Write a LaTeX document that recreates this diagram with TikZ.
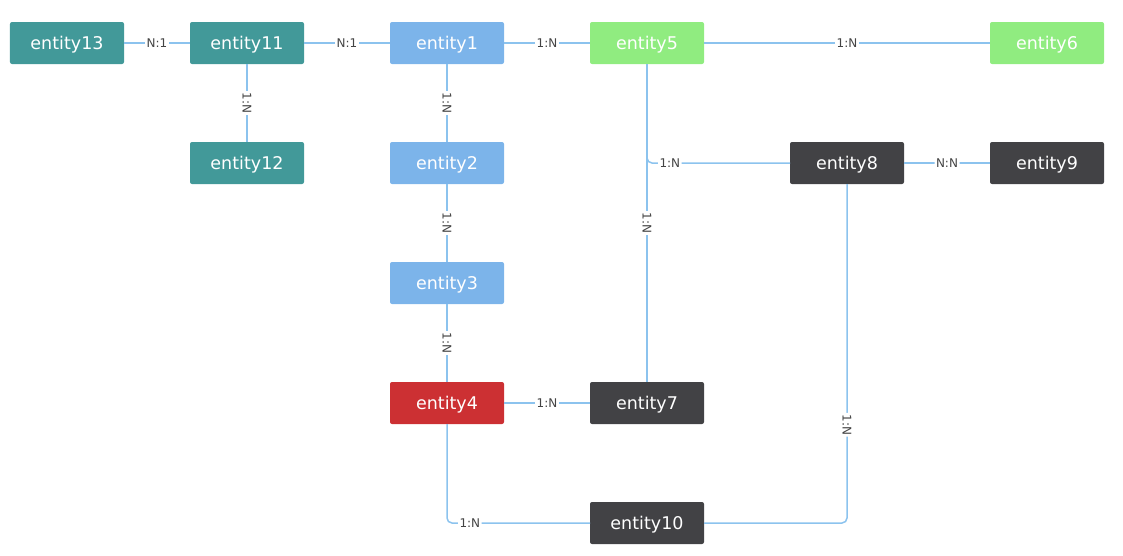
\documentclass[tikz,border=0pt]{standalone}
\usepackage{xcolor}
\usepackage{tikz}
\usetikzlibrary{positioning}
\usepackage{fontspec}
\setmainfont{DejaVu Sans}
\definecolor{tealbox}{HTML}{429999}
\definecolor{bluebox}{HTML}{7CB4EA}
\definecolor{greenbox}{HTML}{90EC80}
\definecolor{redbox}{HTML}{CC3033}
\definecolor{darkbox}{HTML}{424245}
\definecolor{linkblue}{HTML}{8CC3EE}
\definecolor{labelgray}{HTML}{444444}

\begin{document}
\begin{tikzpicture}[x=1pt, y=1pt,
  entity/.style={rounded corners=2pt, minimum width=114pt, minimum height=42pt,
                 inner sep=0pt, outer sep=0pt, text=white, text depth=0pt,
                 font=\fontsize{17.5}{19}\selectfont},
  tealent/.style={entity, fill=tealbox},
  blueent/.style={entity, fill=bluebox},
  greenent/.style={entity, fill=greenbox},
  redent/.style={entity, fill=redbox},
  darkent/.style={entity, fill=darkbox},
  link/.style={draw=linkblue, line width=1.5pt, rounded corners=5pt},
  rel/.style={fill=white, inner sep=1.5pt, text=labelgray,
              font=\fontsize{12}{13}\selectfont},
  vrel/.style={rel, rotate=-90}
]
\useasboundingbox (-67,43) rectangle (1056,-512);

\node[tealent] (e13) at (0,0) {entity13};
\node[tealent, right=66pt of e13] (e11) {entity11};
\node[tealent, below=78pt of e11] (e12) {entity12};
\node[blueent, right=86pt of e11] (e1) {entity1};
\node[blueent, below=78pt of e1] (e2) {entity2};
\node[blueent, below=78pt of e2] (e3) {entity3};
\node[redent, below=78pt of e3] (e4) {entity4};
\node[greenent, right=86pt of e1] (e5) {entity5};
\node[greenent, right=286pt of e5] (e6) {entity6};
\node[darkent, right=86pt of e4] (e7) {entity7};
\node[darkent, below=78pt of e7] (e10) {entity10};
\node[darkent, right=286pt of e2] (e8) {entity8};
\node[darkent, right=86pt of e8] (e9) {entity9};

\draw[link] (e13) -- node[rel] (r1) {N:1} (e11);
\draw[link] (e11) -- node[rel] (r2) {N:1} (e1);
\draw[link] (e11) -- node[vrel] (r3) {1:N} (e12);
\draw[link] (e1) -- node[rel] (r4) {1:N} (e5);
\draw[link] (e5) -- node[rel] (r5) {1:N} (e6);
\draw[link] (e1) -- node[vrel] (r6) {1:N} (e2);
\draw[link] (e2) -- node[vrel] (r7) {1:N} (e3);
\draw[link] (e3) -- node[vrel] (r8) {1:N} (e4);
\draw[link] (e4) -- node[rel] (r9) {1:N} (e7);
\draw[link] (e5) -- node[vrel] (r10) {1:N} (e7);
\draw[link] (e5.south) |- node[rel, pos=0.58] (r11) {1:N} (e8.west);
\draw[link] (e8) -- node[rel] (r12) {N:N} (e9);
\draw[link] (e4.south) |- node[rel, pos=0.58] (r13) {1:N} (e10.west);
\draw[link] (e8.south) |- node[vrel, pos=0.355] (r14) {1:N} (e10.east);

\end{tikzpicture}
\end{document}
